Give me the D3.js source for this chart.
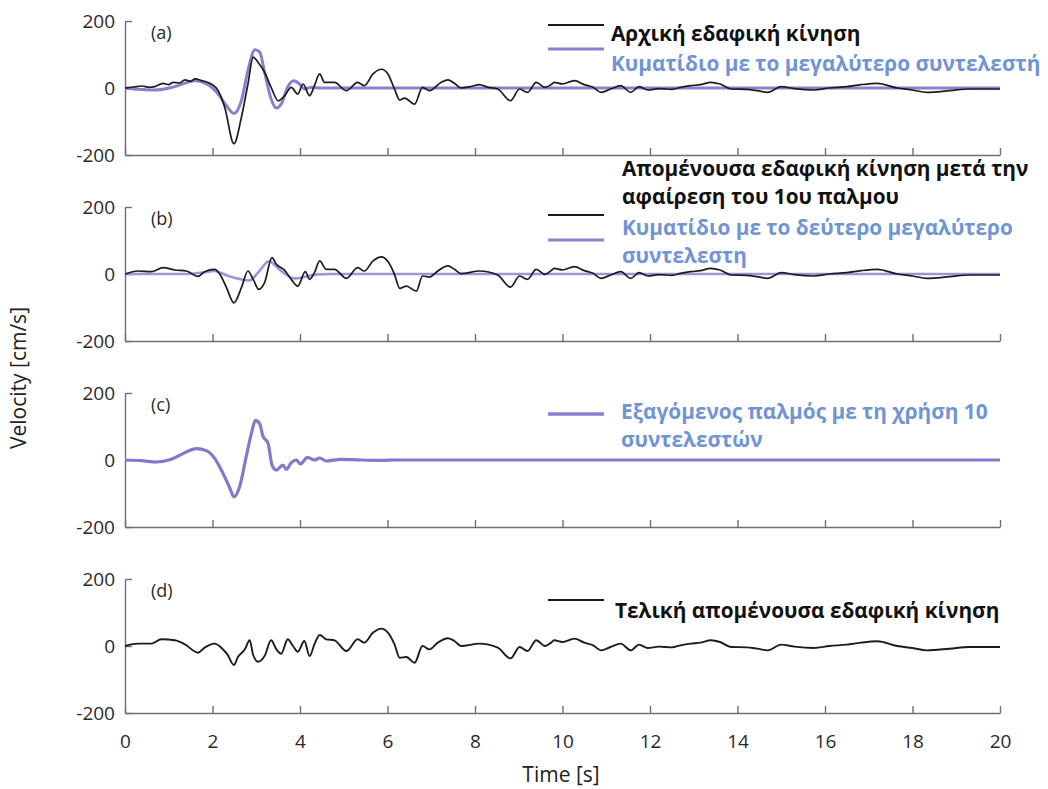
<!DOCTYPE html>
<html>
<head>
<meta charset="utf-8">
<script src="https://cdn.jsdelivr.net/npm/d3@7"></script>
<style>
  body { margin: 0; background: #fff; }
  svg { display: block; }
</style>
</head>
<body>
<div id="chart"></div>
<script>
// tick values
const ticksX = d3.range(0, 21, 2);
const ticksY = [-200, 0, 200];
const panelLabels = ["(a)", "(b)", "(c)", "(d)"];

// [time s, velocity cm/s]
// (a) original ground motion
const groundMotion = [[0,0],[0.2,3],[0.38,6],[0.55,2],[0.68,4],[0.87,14],[1.0,10],[1.1,17],[1.25,15],[1.37,24],[1.5,20],[1.6,27],[1.75,22],[1.97,12],[2.13,-8],[2.28,-58],[2.49,-166],[2.66,-88],[2.81,12],[2.93,92],[3.04,77],[3.19,47],[3.34,2],[3.5,-38],[3.65,-23],[3.8,2],[3.95,-18],[4.07,12],[4.22,-23],[4.33,7],[4.45,42],[4.56,17],[4.79,17],[5.06,-8],[5.32,17],[5.47,7],[5.67,42],[5.86,56],[6.01,42],[6.16,-3],[6.28,-36],[6.39,-30],[6.62,-48],[6.8,2],[6.96,-8],[7.23,17],[7.38,24],[7.53,14],[7.68,0],[7.9,4],[8.1,10],[8.3,2],[8.52,-3],[8.81,-38],[9.02,-3],[9.2,-13],[9.4,17],[9.6,2]];
// (b) residual after removing the 1st pulse
const residual1 = [[0,0],[0.3,9],[0.6,7],[0.87,19],[1.14,12],[1.4,9],[1.67,-7],[1.82,7],[2.05,14],[2.17,-1],[2.32,-41],[2.49,-86],[2.66,-41],[2.81,9],[2.93,-16],[3.06,-46],[3.19,-26],[3.36,49],[3.46,29],[3.65,11],[3.8,-16],[3.95,-36],[4.12,7],[4.22,-16],[4.33,4],[4.45,39],[4.6,14],[4.79,14],[5.06,-13],[5.32,19],[5.47,9],[5.67,39],[5.86,51],[6.01,37],[6.16,-1],[6.28,-43],[6.43,-36],[6.66,-51],[6.8,-6],[6.96,-9],[7.15,9],[7.38,24],[7.53,14],[7.68,1],[8.1,9],[8.52,-3],[8.81,-39],[9.02,-6],[9.2,-16],[9.4,14],[9.6,-1]];
// (d) final residual
const residualFinal = [[0,0],[0.3,7],[0.6,7],[0.83,20],[1.14,17],[1.37,5],[1.67,-20],[1.82,-5],[2.05,7],[2.2,-5],[2.34,-25],[2.49,-57],[2.58,-33],[2.74,-10],[2.85,17],[2.93,-27],[3.04,-47],[3.19,-30],[3.34,17],[3.46,-10],[3.57,-23],[3.72,20],[3.84,0],[3.95,-17],[4.1,15],[4.22,-30],[4.33,5],[4.45,33],[4.6,20],[4.79,17],[5.06,-15],[5.32,20],[5.47,10],[5.67,40],[5.86,52],[6.01,40],[6.16,5],[6.28,-35],[6.43,-33],[6.62,-50],[6.8,0],[6.96,-10],[7.15,10],[7.38,23],[7.53,15],[7.68,0],[8.1,7],[8.52,-5],[8.81,-37],[9.02,-3],[9.2,-15],[9.4,17],[9.6,0]];
// late part, same in (a), (b), (d)
const residualTail = [[9.74,10],[9.81,17],[10.0,12],[10.27,22],[10.5,10],[10.7,2],[10.88,-13],[11.1,-3],[11.33,7],[11.56,-13],[11.75,4],[11.95,-6],[12.2,-2],[12.5,-4],[12.7,2],[12.93,7],[13.15,10],[13.39,17],[13.6,12],[13.85,-3],[14.2,-4],[14.45,-8],[14.69,-13],[15.0,4],[15.3,-2],[15.75,-6],[16.1,0],[16.5,4],[16.82,10],[17.2,14],[17.65,0],[18.0,-6],[18.33,-13],[18.85,-8],[19.3,-3],[20,-3]];
// wavelets
const wavelet1 = [[0,0],[0.68,-6],[1.14,4],[1.6,22],[1.9,10],[2.13,-18],[2.32,-53],[2.49,-76],[2.66,-38],[2.81,52],[2.97,114],[3.08,107],[3.19,47],[3.34,-33],[3.46,-60],[3.57,-48],[3.72,4],[3.86,22],[3.99,12],[4.1,-3],[4.26,2],[4.49,0],[20,0]];
const wavelet2 = [[0,0],[1.4,0],[1.75,4],[2.05,9],[2.36,-6],[2.66,-16],[2.85,-19],[3.04,4],[3.3,39],[3.42,27],[3.65,1],[3.88,-13],[4.1,-9],[4.4,-1],[4.7,0],[20,0]];
// (c) extracted pulse
const pulse = [[0,0],[0.38,-2],[0.72,-6],[1.06,2],[1.37,22],[1.63,34],[1.86,28],[2.05,5],[2.24,-40],[2.39,-82],[2.49,-110],[2.62,-80],[2.77,10],[2.89,80],[2.98,118],[3.08,108],[3.15,72],[3.27,50],[3.36,-15],[3.46,-30],[3.61,-15],[3.69,-28],[3.8,-8],[3.92,0],[4.01,-12],[4.17,8],[4.33,0],[4.45,6],[4.6,-3],[4.94,2],[5.4,0],[5.86,-1],[6.2,0],[20,0]];

// legend texts
const legendA = ["Αρχική εδαφική κίνηση", "Κυματίδιο με το μεγαλύτερο συντελεστή"];
const legendB1 = ["Απομένουσα εδαφική κίνηση μετά την", "αφαίρεση του 1ου παλμου"];
const legendB2 = ["Κυματίδιο με το δεύτερο μεγαλύτερο", "συντελεστη"];
const legendC = ["Εξαγόμενος παλμός με τη χρήση 10", "συντελεστών"];
const legendD = ["Τελική απομένουσα εδαφική κίνηση"];

var W = 1048, H = 789;
var panelH = 134, panelStep = 186, firstTop = 21;
var black = "#1c1c1c", purple = "#8880cf", blueText = "#7094d4";

var svg = d3.select("#chart").append("svg")
  .attr("width", W).attr("height", H);

var x = d3.scaleLinear().domain([0, 20]).range([125, 1000]);

// one panel per row
var panels = [
  { lines: [{ data: wavelet1, color: purple, w: 3 }, { data: groundMotion.concat(residualTail), color: black, w: 1.7 }] },
  { lines: [{ data: wavelet2, color: "#9c95d8", w: 2.6 }, { data: residual1.concat(residualTail), color: black, w: 1.7 }] },
  { lines: [{ data: pulse, color: "#8279ca", w: 3.2 }] },
  { lines: [{ data: residualFinal.concat(residualTail), color: black, w: 1.9 }] }
];

panels.forEach(function (p, i) {
  var top = firstTop + i * panelStep;
  var y = d3.scaleLinear().domain([-200, 200]).range([top + panelH, top]);
  var g = svg.append("g");

  // axes
  var ax = g.append("g")
    .attr("transform", "translate(0," + (top + panelH) + ")")
    .call(d3.axisBottom(x).tickValues(ticksX).tickSize(-7).tickSizeOuter(0).tickPadding(22)
      .tickFormat(i === 3 ? function (d) { return String(d); } : function () { return ""; }));
  var ay = g.append("g")
    .attr("transform", "translate(125,0)")
    .call(d3.axisLeft(y).tickValues(ticksY).tickSize(-7).tickSizeOuter(0).tickPadding(10)
      .tickFormat(function (d) { return String(d); }));
  [ax, ay].forEach(function (a) {
    a.selectAll("path, line").attr("stroke", "#707070").attr("stroke-width", 1.4);
    a.selectAll("text").attr("fill", "#2a2a2a")
      .style("font-family", "'Open Sans', sans-serif").style("font-size", "19px");
  });
  ay.selectAll("text").attr("dy", "0.36em");

  var ln = d3.line().x(function (d) { return x(d[0]); }).y(function (d) { return y(d[1]); })
    .curve(d3.curveMonotoneX);
  p.lines.forEach(function (s) {
    g.append("path")
      .datum(s.data)
      .attr("d", ln)
      .attr("fill", "none")
      .attr("stroke", s.color)
      .attr("stroke-width", s.w)
      .attr("stroke-linejoin", "round");
  });

  g.append("text")
    .attr("x", 151).attr("y", top + 18)
    .attr("fill", "#2a2a2a")
    .style("font-family", "'Open Sans', sans-serif").style("font-size", "18px")
    .text(panelLabels[i]);
});

// legends
function sample(y, color, w) {
  svg.append("line").attr("x1", 548).attr("x2", 604).attr("y1", y).attr("y2", y)
    .attr("stroke", color).attr("stroke-width", w);
}
function label(lines, x0, y0, color) {
  lines.forEach(function (t, k) {
    svg.append("text")
      .attr("x", x0).attr("y", y0 + k * 28)
      .attr("fill", color)
      .style("font-family", "'Open Sans', sans-serif")
      .style("font-weight", "bold").style("font-size", "20.8px")
      .text(t);
  });
}

sample(25, black, 1.8);
label([legendA[0]], 611, 41, "#111");
sample(49, purple, 3);
label([legendA[1]], 611, 71, blueText);

label(legendB1, 622, 176, "#111");
sample(215, black, 1.8);
sample(240, purple, 3);
label(legendB2, 622, 235, blueText);

sample(414, purple, 3.5);
label(legendC, 621, 419, blueText);

sample(600, black, 1.8);
label(legendD, 615, 618, "#111");

// axis titles
svg.append("text")
  .attr("transform", "translate(26,378) rotate(-90)")
  .attr("text-anchor", "middle")
  .attr("fill", "#222")
  .style("font-family", "'Open Sans', sans-serif").style("font-size", "21px")
  .text("Velocity [cm/s]");

svg.append("text")
  .attr("x", 561).attr("y", 782)
  .attr("text-anchor", "middle")
  .attr("fill", "#222")
  .style("font-family", "'Open Sans', sans-serif").style("font-size", "21px")
  .text("Time [s]");
</script>
</body>
</html>
